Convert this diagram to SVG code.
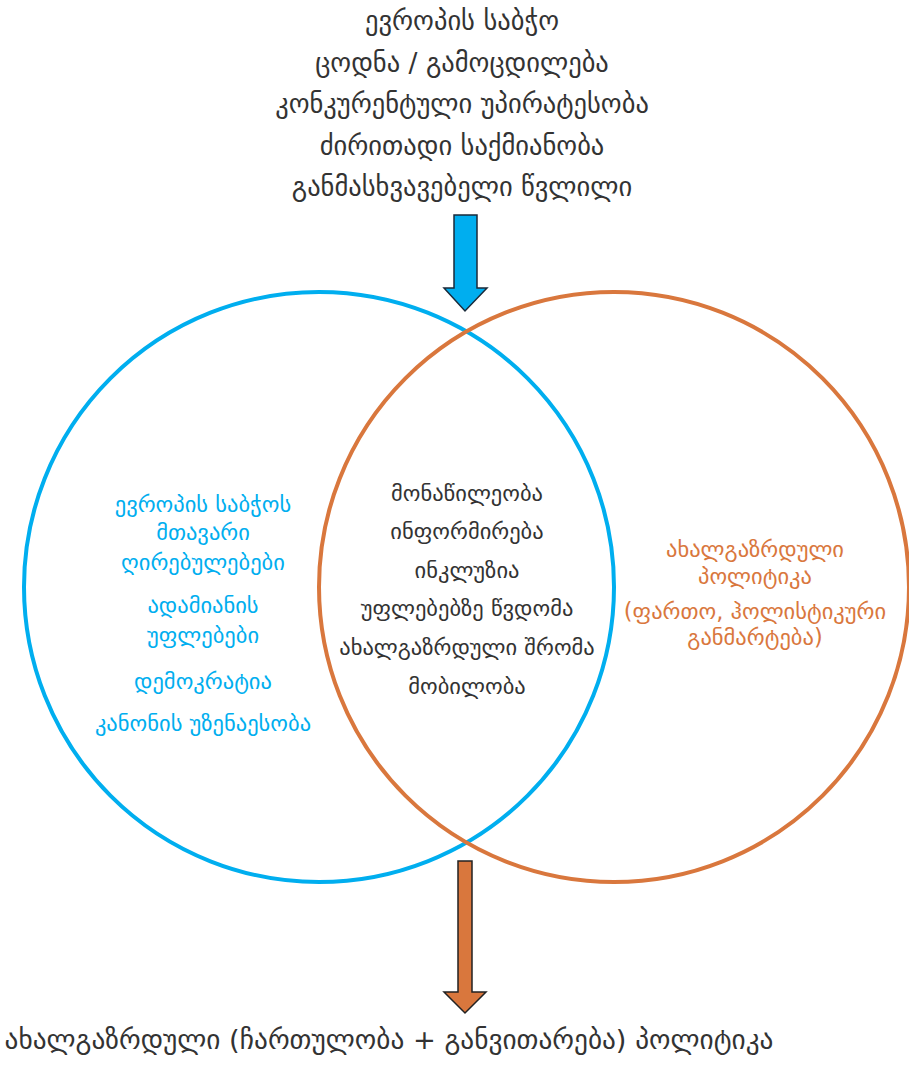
<svg xmlns="http://www.w3.org/2000/svg" width="909" height="1068" viewBox="0 0 909 1068">
<style>
text{font-family:"DejaVu Sans","Noto Sans",sans-serif;text-anchor:middle}
.top{font-size:26.5px;fill:#333}
.mid{font-size:22.5px;fill:#333}
.blue{font-size:22.5px;fill:#00aeef}
.orange{font-size:22.5px;fill:#d9773d}
.bot{font-size:27.3px;fill:#333}
</style>
<rect width="909" height="1068" fill="#fff"/>
<g id="top-text">
<text class="top" x="462" y="30">ევროპის საბჭო</text>
<text class="top" x="462" y="72">ცოდნა / გამოცდილება</text>
<text class="top" x="462" y="113">კონკურენტული უპირატესობა</text>
<text class="top" x="462" y="155">ძირითადი საქმიანობა</text>
<text class="top" x="462" y="196">განმასხვავებელი წვლილი</text>
</g>
<g id="blue-circle">
<circle cx="319" cy="587" r="295" fill="none" stroke="#00aeef" stroke-width="4"/>
</g>
<g id="orange-circle">
<circle cx="614" cy="587" r="295" fill="none" stroke="#d9773d" stroke-width="4"/>
</g>
<g id="connectors">
<path d="M454,215 H477 V288 H487 L465,311 L444,288 H454 Z" fill="#00aeef" stroke="#1a2a3a" stroke-width="1.5"/>
<path d="M458,861 H472 V992 H486 L465,1013 L444,992 H458 Z" fill="#d9773d" stroke="#222" stroke-width="1.5"/>
</g>
<g id="blue-text">
<text class="blue" x="203" y="512">ევროპის საბჭოს</text>
<text class="blue" x="203" y="540">მთავარი</text>
<text class="blue" x="203" y="570">ღირებულებები</text>
<text class="blue" x="203" y="613">ადამიანის</text>
<text class="blue" x="203" y="643">უფლებები</text>
<text class="blue" x="203" y="689">დემოკრატია</text>
<text class="blue" x="203" y="731">კანონის უზენაესობა</text>
</g>
<g id="intersection-text">
<text class="mid" x="467" y="501">მონაწილეობა</text>
<text class="mid" x="467" y="539">ინფორმირება</text>
<text class="mid" x="467" y="578">ინკლუზია</text>
<text class="mid" x="467" y="616">უფლებებზე წვდომა</text>
<text class="mid" x="467" y="655">ახალგაზრდული შრომა</text>
<text class="mid" x="467" y="694">მობილობა</text>
</g>
<g id="orange-text">
<text class="orange" x="755" y="557">ახალგაზრდული</text>
<text class="orange" x="755" y="584">პოლიტიკა</text>
<text class="orange" x="755" y="619">(ფართო, ჰოლისტიკური</text>
<text class="orange" x="755" y="645">განმარტება)</text>
</g>
<g id="bottom-text">
<text class="bot" x="389" y="1049">ახალგაზრდული (ჩართულობა + განვითარება) პოლიტიკა</text>
</g>
</svg>
